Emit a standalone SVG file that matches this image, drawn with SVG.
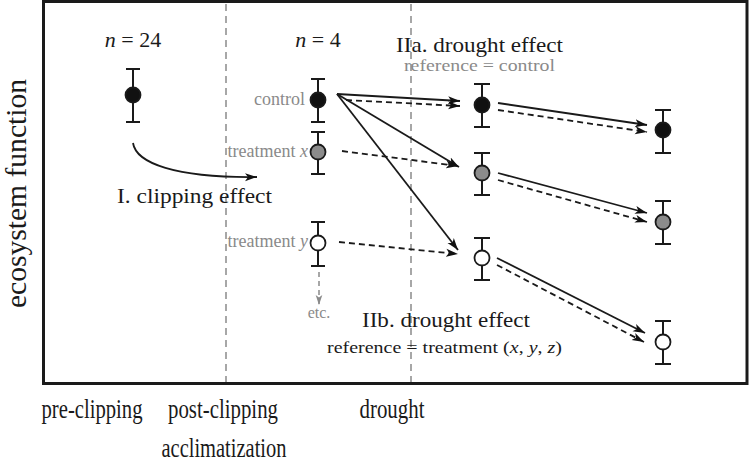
<svg xmlns="http://www.w3.org/2000/svg" width="752" height="465" viewBox="0 0 752 465">
<style>
text{font-family:"Liberation Serif","Times New Roman",serif;fill:#1a1a1a}
.g{fill:#8a8a8a}
.it{font-style:italic}
.bar{stroke:#1a1a1a;stroke-width:2;fill:none}
.pt{stroke:#1a1a1a;stroke-width:1.8}
.blk{fill:#111}
.gry{fill:#8c8c8c}
.wht{fill:#fff}
.sol{stroke:#1a1a1a;stroke-width:1.8;fill:none;marker-end:url(#ah)}
.dsh{stroke:#1a1a1a;stroke-width:1.8;fill:none;stroke-dasharray:6 4;marker-end:url(#ah)}
.vdash{stroke:#8a8a8a;stroke-width:1.5;stroke-dasharray:7 5}
</style>
<defs>
<marker id="ah" viewBox="0 0 12 10" refX="12" refY="5" markerWidth="12" markerHeight="10" markerUnits="userSpaceOnUse" orient="auto"><path d="M0,1 L12,5 L0,9 L3,5 z" fill="#111"/></marker>
<marker id="ahg" viewBox="0 0 12 10" refX="12" refY="5" markerWidth="10" markerHeight="9" markerUnits="userSpaceOnUse" orient="auto"><path d="M0,1 L12,5 L0,9 L3,5 z" fill="#8a8a8a"/></marker>
</defs>
<rect x="0" y="0" width="752" height="465" fill="#fff"/>
<g id="frame">
<line class="vdash" x1="226" y1="4" x2="226" y2="382"/>
<line class="vdash" x1="411" y1="4" x2="411" y2="382"/>
<rect x="43.5" y="1.5" width="703.5" height="382" fill="none" stroke="#1a1a1a" stroke-width="3"/>
</g>
<g id="labels">
<text x="133" y="47" font-size="22" text-anchor="middle"><tspan class="it">n</tspan> = 24</text>
<text x="318" y="47" font-size="22" text-anchor="middle"><tspan class="it">n</tspan> = 4</text>
<text x="117" y="203" font-size="21" textLength="155" lengthAdjust="spacingAndGlyphs">I. clipping effect</text>
<text x="396" y="52" font-size="21" textLength="167" lengthAdjust="spacingAndGlyphs">IIa. drought effect</text>
<text x="404" y="71" font-size="16" class="g" textLength="151" lengthAdjust="spacingAndGlyphs">reference = control</text>
<text x="362" y="327" font-size="21" textLength="168" lengthAdjust="spacingAndGlyphs">IIb. drought effect</text>
<text x="327" y="353" font-size="17" textLength="235" lengthAdjust="spacingAndGlyphs">reference = treatment (<tspan class="it">x</tspan>, <tspan class="it">y</tspan>, <tspan class="it">z</tspan>)</text>
<text x="305" y="105" font-size="18" class="g" text-anchor="end">control</text>
<text x="308" y="157" font-size="18" class="g" text-anchor="end">treatment <tspan class="it">x</tspan></text>
<text x="308" y="247" font-size="18" class="g" text-anchor="end">treatment <tspan class="it">y</tspan></text>
<text x="319" y="318" font-size="16" class="g" text-anchor="middle">etc.</text>
<text x="92" y="418" font-size="27" text-anchor="middle" textLength="101" lengthAdjust="spacingAndGlyphs">pre-clipping</text>
<text x="223" y="418" font-size="27" text-anchor="middle" textLength="110" lengthAdjust="spacingAndGlyphs">post-clipping</text>
<text x="224" y="457" font-size="27" text-anchor="middle" textLength="125" lengthAdjust="spacingAndGlyphs">acclimatization</text>
<text x="392" y="418" font-size="27" text-anchor="middle" textLength="65" lengthAdjust="spacingAndGlyphs">drought</text>
<text transform="translate(26,193.5) rotate(-90)" font-size="30" text-anchor="middle" textLength="229" lengthAdjust="spacingAndGlyphs">ecosystem function</text>
</g>
<g id="connectors">
<path class="sol" d="M133,143 C136,163 175,178 257,177"/>
<line class="sol" x1="337" y1="94" x2="460" y2="101"/>
<line class="dsh" x1="346" y1="100" x2="460" y2="106"/>
<line class="sol" x1="337" y1="94" x2="459" y2="167"/>
<line class="dsh" x1="342" y1="151" x2="458" y2="166"/>
<line class="sol" x1="337" y1="94" x2="458" y2="250"/>
<line class="dsh" x1="339" y1="242" x2="458" y2="254"/>
<line class="sol" x1="498" y1="103" x2="647" y2="125"/>
<line class="dsh" x1="498" y1="110" x2="647" y2="132"/>
<line class="sol" x1="498" y1="173" x2="647" y2="213"/>
<line class="dsh" x1="498" y1="180" x2="647" y2="222"/>
<line class="sol" x1="497" y1="258" x2="645" y2="333"/>
<line class="dsh" x1="497" y1="265" x2="644" y2="342"/>
<line x1="319" y1="272" x2="319" y2="305" stroke="#8a8a8a" stroke-width="1.5" stroke-dasharray="5 4" marker-end="url(#ahg)"/>
</g>
<g id="pre">
<path class="bar" d="M126,69H140M133,69V122M126,122H140"/>
<circle class="pt blk" cx="133" cy="95" r="7.5"/>
</g>
<g id="control">
<path class="bar" d="M311,79H325M318,79V122M311,122H325"/>
<circle class="pt blk" cx="318" cy="100" r="7.5"/>
</g>
<g id="treatment-x">
<path class="bar" d="M311,132H325M318,132V174M311,174H325"/>
<circle class="pt gry" cx="318" cy="152" r="7.5"/>
</g>
<g id="treatment-y">
<path class="bar" d="M311,222H325M318,222V266M311,266H325"/>
<circle class="pt wht" cx="318" cy="243" r="7.5"/>
</g>
<g id="d1-control">
<path class="bar" d="M474,84H490M482,84V127M474,127H490"/>
<circle class="pt blk" cx="482" cy="105" r="7.5"/>
</g>
<g id="d1-x">
<path class="bar" d="M474,153H490M482,153V195M474,195H490"/>
<circle class="pt gry" cx="482" cy="173" r="7.5"/>
</g>
<g id="d1-y">
<path class="bar" d="M474,238H490M482,238V280M474,280H490"/>
<circle class="pt wht" cx="482" cy="258" r="7.5"/>
</g>
<g id="d2-control">
<path class="bar" d="M655,110H671M663,110V153M655,153H671"/>
<circle class="pt blk" cx="663" cy="130" r="7.5"/>
</g>
<g id="d2-x">
<path class="bar" d="M655,201H671M663,201V244M655,244H671"/>
<circle class="pt gry" cx="663" cy="222" r="7.5"/>
</g>
<g id="d2-y">
<path class="bar" d="M655,321H671M663,321V364M655,364H671"/>
<circle class="pt wht" cx="663" cy="342" r="7.5"/>
</g>
</svg>
